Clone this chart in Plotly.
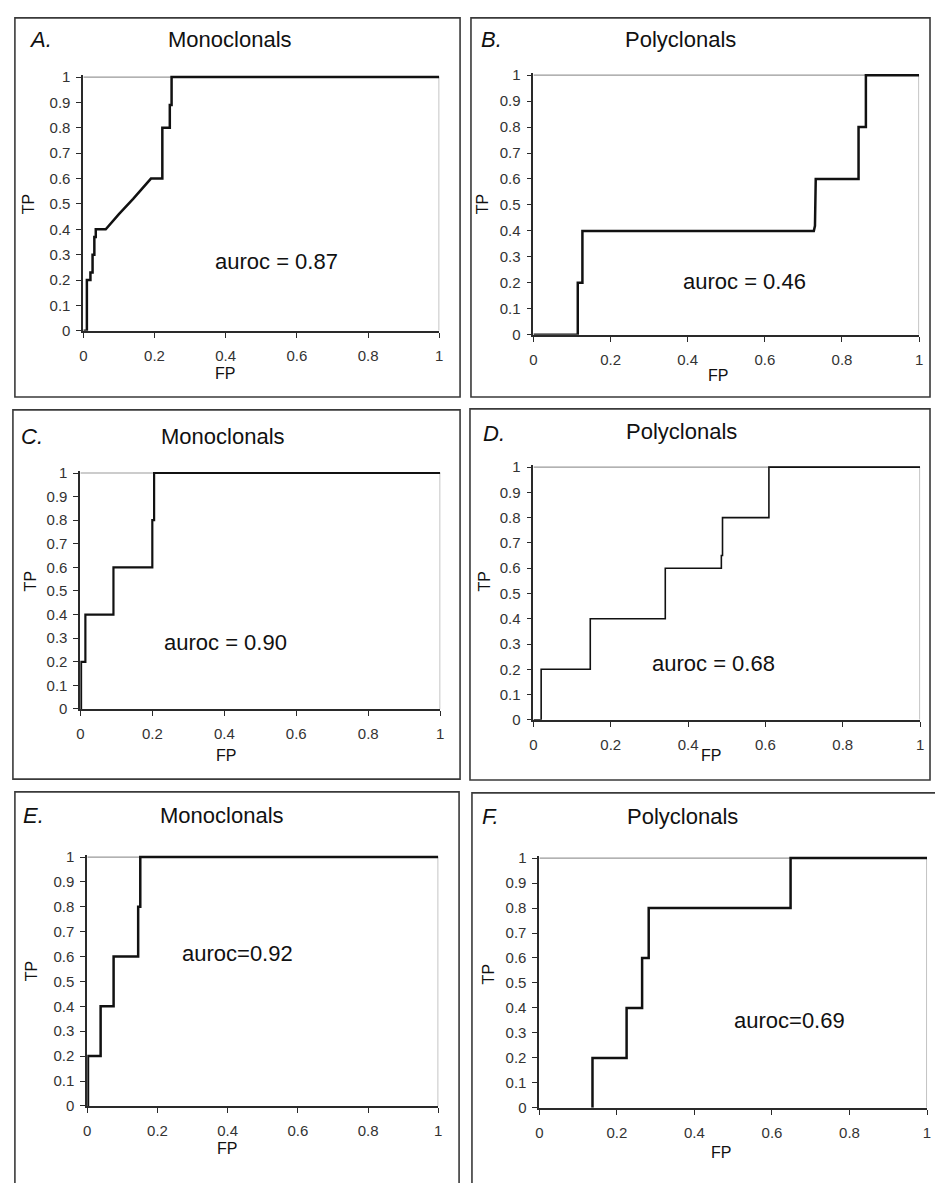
import plotly.graph_objects as go

# ---------------- data ----------------
fp_a = [0, 0.01, 0.01, 0.02, 0.02, 0.026, 0.026, 0.031, 0.031, 0.035, 0.035, 0.063, 0.10, 0.14, 0.19, 0.222, 0.222, 0.243, 0.243, 0.248, 0.248, 1.0]
tp_a = [0, 0, 0.2, 0.2, 0.23, 0.23, 0.3, 0.3, 0.37, 0.37, 0.4, 0.4, 0.46, 0.52, 0.6, 0.6, 0.8, 0.8, 0.89, 0.89, 1.0, 1.0]

fp_b = [0, 0.115, 0.115, 0.127, 0.127, 0.727, 0.730, 0.732, 0.843, 0.843, 0.862, 0.862, 1.0]
tp_b = [0, 0, 0.2, 0.2, 0.4, 0.4, 0.42, 0.6, 0.6, 0.8, 0.8, 1.0, 1.0]

fp_c = [0, 0.002, 0.002, 0.014, 0.014, 0.092, 0.092, 0.2, 0.2, 0.205, 0.205, 1.0]
tp_c = [0, 0, 0.2, 0.2, 0.4, 0.4, 0.6, 0.6, 0.8, 0.8, 1.0, 1.0]

fp_d = [0, 0.02, 0.02, 0.147, 0.147, 0.341, 0.341, 0.486, 0.486, 0.489, 0.489, 0.609, 0.609, 1.0]
tp_d = [0, 0, 0.2, 0.2, 0.4, 0.4, 0.6, 0.6, 0.65, 0.65, 0.8, 0.8, 1.0, 1.0]

fp_e = [0, 0.002, 0.002, 0.038, 0.038, 0.075, 0.075, 0.145, 0.145, 0.151, 0.151, 1.0]
tp_e = [0, 0, 0.2, 0.2, 0.4, 0.4, 0.6, 0.6, 0.8, 0.8, 1.0, 1.0]

fp_f = [0.137, 0.137, 0.225, 0.225, 0.265, 0.265, 0.282, 0.282, 0.648, 0.648, 1.0]
tp_f = [0, 0.2, 0.2, 0.4, 0.4, 0.6, 0.6, 0.8, 0.8, 1.0, 1.0]

panel_letters = ["A.", "B.", "C.", "D.", "E.", "F."]
panel_titles = ["Monoclonals", "Polyclonals", "Monoclonals", "Polyclonals", "Monoclonals", "Polyclonals"]
auroc_labels = ["auroc = 0.87", "auroc = 0.46", "auroc = 0.90", "auroc = 0.68", "auroc=0.92", "auroc=0.69"]
x_tick_vals = [0, 0.2, 0.4, 0.6, 0.8, 1.0]
x_tick_text = ["0", "0.2", "0.4", "0.6", "0.8", "1"]
y_tick_vals = [0, 0.1, 0.2, 0.3, 0.4, 0.5, 0.6, 0.7, 0.8, 0.9, 1.0]
y_tick_text = ["0", "0.1", "0.2", "0.3", "0.4", "0.5", "0.6", "0.7", "0.8", "0.9", "1"]
x_title = "FP"
y_title = "TP"

curves = [(fp_a, tp_a), (fp_b, tp_b), (fp_c, tp_c), (fp_d, tp_d), (fp_e, tp_e), (fp_f, tp_f)]

# ---------------- layout geometry (pixels) ----------------
W, H = 935, 1183
plot_px = [
    (80, 439, 71, 328),
    (534, 923, 69, 332),
    (77, 440, 472, 711),
    (534, 924, 466, 722),
    (84, 438, 861, 1113),
    (540, 931, 862, 1115),
]
box_px = [
    (11, 11, 460, 395),
    (471, 11, 934, 395),
    (9, 408, 460, 782),
    (470, 407, 934, 783),
    (11, 795, 459, 1195),
    (472, 796, 940, 1195),
]
letter_pos = [(37, 33), (492, 33), (28, 435), (494, 432), (30, 819), (491, 820)]
title_pos = [(228, 33), (682, 33), (221, 435), (683, 430), (220, 819), (684, 820)]
auroc_pos = [(275, 258), (747, 278), (223, 644), (716, 665), (236, 959), (792, 1027)]
tp_pos = [(25, 200), (483, 200), (27, 582), (485, 582), (28, 977), (489, 980)]
fp_pos = [(223, 371), (720, 373), (224, 758), (713, 758), (225, 1156), (723, 1160)]
line_widths = [2.5, 2.5, 2.2, 1.6, 2.5, 2.5]

YPAD = 0.008

def px(x):
    return x / W

def py(y):
    return 1 - y / H

FONT = "Liberation Sans, Arial, sans-serif"
fig = go.Figure()
annotations = []
shapes = []
layout_axes = {}

for i in range(6):
    n = "" if i == 0 else str(i + 1)
    xa, ya = "x" + n, "y" + n
    x0, x1, yt, yb = plot_px[i]
    ytop_dom = yt - YPAD * (yb - yt)
    layout_axes["xaxis" + n] = dict(
        domain=[px(x0), px(x1)], range=[0, 1], anchor=ya,
        tickvals=x_tick_vals, ticktext=x_tick_text,
        showline=True, linecolor="#2a2a2a", linewidth=1.8,
        ticks="outside", ticklen=5, tickcolor="#2a2a2a", tickwidth=1.3,
        tickfont=dict(family=FONT, size=15, color="#333"),
        ticklabelstandoff=5,
        showgrid=False, zeroline=False, fixedrange=True,
    )
    layout_axes["yaxis" + n] = dict(
        domain=[py(yb), py(ytop_dom)], range=[0, 1 + YPAD], anchor=xa,
        tickvals=y_tick_vals, ticktext=y_tick_text,
        showline=True, linecolor="#2a2a2a", linewidth=1.8,
        ticks="outside", ticklen=5, tickcolor="#2a2a2a", tickwidth=1.3,
        tickfont=dict(family=FONT, size=15, color="#333"),
        ticklabelstandoff=3,
        showgrid=False, zeroline=False, fixedrange=True,
    )
    shapes.append(dict(type="line", xref=xa, yref=ya, x0=0, x1=1, y0=1, y1=1,
                       line=dict(color="#999", width=1.2), layer="below"))
    shapes.append(dict(type="line", xref=xa, yref=ya, x0=1, x1=1, y0=0, y1=1,
                       line=dict(color="#999", width=1.2), layer="below"))
    bx0, by0, bx1, by1 = box_px[i]
    shapes.append(dict(type="rect", xref="paper", yref="paper",
                       x0=px(bx0), x1=px(bx1), y0=py(by1), y1=py(by0),
                       line=dict(color="#3a3a3a", width=1.6), fillcolor="rgba(0,0,0,0)"))
    fx, fy = curves[i]
    fig.add_trace(go.Scatter(x=fx, y=fy, xaxis=xa, yaxis=ya, mode="lines",
                             line=dict(color="#111", width=line_widths[i]),
                             showlegend=False, hoverinfo="skip"))
    lx, ly = letter_pos[i]
    annotations.append(dict(text=panel_letters[i], x=px(lx), y=py(ly), xref="paper", yref="paper",
                            showarrow=False, xanchor="center", yanchor="middle",
                            font=dict(family=FONT, size=22, color="#111", style="italic")))
    tx, ty = title_pos[i]
    annotations.append(dict(text=panel_titles[i], x=px(tx), y=py(ty), xref="paper", yref="paper",
                            showarrow=False, xanchor="center", yanchor="middle",
                            font=dict(family=FONT, size=22, color="#111")))
    ax_, ay_ = auroc_pos[i]
    annotations.append(dict(text=auroc_labels[i], x=px(ax_), y=py(ay_), xref="paper", yref="paper",
                            showarrow=False, xanchor="center", yanchor="middle",
                            font=dict(family=FONT, size=22, color="#111")))
    tpx, tpy = tp_pos[i]
    annotations.append(dict(text=y_title, x=px(tpx), y=py(tpy), xref="paper", yref="paper",
                            showarrow=False, xanchor="center", yanchor="middle", textangle=-90,
                            font=dict(family=FONT, size=16, color="#111")))
    fpx, fpy = fp_pos[i]
    annotations.append(dict(text=x_title, x=px(fpx), y=py(fpy), xref="paper", yref="paper",
                            showarrow=False, xanchor="center", yanchor="middle",
                            font=dict(family=FONT, size=16, color="#111")))

fig.update_layout(
    width=W, height=H, autosize=False,
    margin=dict(l=0, r=0, t=0, b=0),
    paper_bgcolor="white", plot_bgcolor="white",
    annotations=annotations, shapes=shapes,
    **layout_axes,
)

fig.write_html("out.html")
